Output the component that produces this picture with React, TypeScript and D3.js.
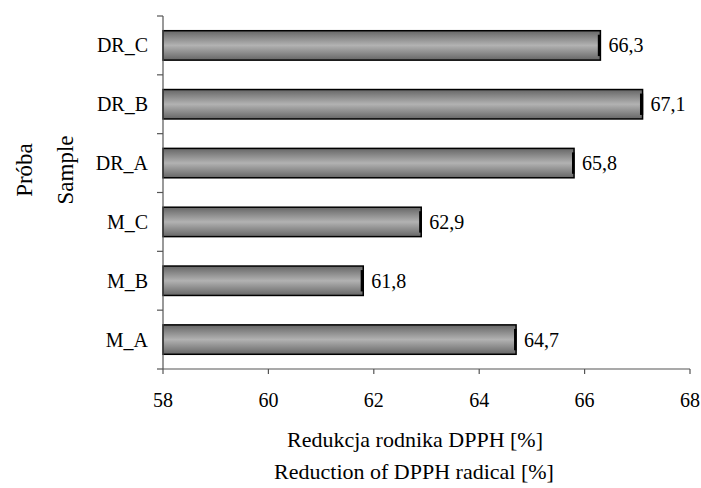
import React, { useEffect, useRef } from "react";
import * as d3 from "d3";

const samples = ["DR_C", "DR_B", "DR_A", "M_C", "M_B", "M_A"];
const values = [66.3, 67.1, 65.8, 62.9, 61.8, 64.7];
const errors = [0.03, 0.03, 0.02, 0.02, 0.03, 0.02];
const xTicks = [58, 60, 62, 64, 66, 68];

export default function App() {
  const svgRef = useRef<SVGSVGElement>(null);

  useEffect(() => {
    if (!svgRef.current) return;
    const width = 701;
    const height = 488;
    const left = 163;
    const right = 690;
    const top = 16;
    const bottom = 369;
    const font = "'Liberation Serif', 'Times New Roman', serif";

    d3.select(svgRef.current).selectAll("*").remove();
    const svg = d3.select(svgRef.current)
      .attr("width", width)
      .attr("height", height)
      .attr("viewBox", [0, 0, width, height]);

    svg.append("rect").attr("width", width).attr("height", height).attr("fill", "white");

    const defs = svg.append("defs");
    const grad = defs.append("linearGradient")
      .attr("id", "barGrad")
      .attr("x1", "0%").attr("y1", "0%")
      .attr("x2", "0%").attr("y2", "100%");
    grad.append("stop").attr("offset", "0%").attr("stop-color", "#666");
    grad.append("stop").attr("offset", "50%").attr("stop-color", "#b2b2b2");
    grad.append("stop").attr("offset", "100%").attr("stop-color", "#666");

    const x = d3.scaleLinear().domain([58, 68]).range([left, right]);
    const y = d3.scaleBand().domain(samples).range([top, bottom]).paddingInner(0.5).paddingOuter(0.25);
    const band = d3.scaleBand().domain(samples).range([top, bottom]);

    const data = samples.map((s, i) => ({ s, v: values[i], e: errors[i] }));

    // bars
    svg.append("g")
      .selectAll("rect")
      .data(data)
      .join("rect")
      .attr("x", x(58))
      .attr("y", d => y(d.s)!)
      .attr("width", d => x(d.v) - x(58))
      .attr("height", y.bandwidth())
      .attr("fill", "url(#barGrad)")
      .attr("stroke", "black")
      .attr("stroke-width", 1.5);

    // error bars
    svg.append("g")
      .selectAll("rect")
      .data(data)
      .join("rect")
      .attr("x", d => x(d.v - d.e) - 1)
      .attr("y", d => y(d.s)! + 4)
      .attr("width", d => Math.max(2.5, x(d.v + d.e) - x(d.v - d.e)))
      .attr("height", y.bandwidth() - 8)
      .attr("fill", "black");

    // value labels
    svg.append("g")
      .selectAll("text")
      .data(data)
      .join("text")
      .attr("x", d => x(d.v) + 8)
      .attr("y", d => y(d.s)! + y.bandwidth() / 2)
      .attr("dy", "0.35em")
      .attr("font-family", font)
      .attr("font-size", 20)
      .text(d => d3.format(".1f")(d.v).replace(".", ","));

    // y axis
    const yAxis = svg.append("g").attr("stroke", "#555");
    yAxis.append("line")
      .attr("x1", left).attr("x2", left)
      .attr("y1", top).attr("y2", bottom)
      .attr("stroke-width", 1.2);
    const yTickPos = samples.map(s => band(s)!).concat([bottom]);
    yAxis.selectAll("line.t")
      .data(yTickPos)
      .join("line")
      .attr("class", "t")
      .attr("x1", left - 6).attr("x2", left)
      .attr("y1", d => d).attr("y2", d => d)
      .attr("stroke-width", 1.2);

    svg.append("g")
      .selectAll("text")
      .data(samples)
      .join("text")
      .attr("x", 148)
      .attr("y", s => y(s)! + y.bandwidth() / 2)
      .attr("dy", "0.35em")
      .attr("text-anchor", "end")
      .attr("font-family", font)
      .attr("font-size", 20)
      .text(s => s);

    // x axis
    const xAxis = svg.append("g").attr("stroke", "#555");
    xAxis.append("line")
      .attr("x1", left).attr("x2", right)
      .attr("y1", bottom).attr("y2", bottom)
      .attr("stroke-width", 1.2);
    xAxis.selectAll("line.t")
      .data(xTicks)
      .join("line")
      .attr("class", "t")
      .attr("x1", d => x(d)).attr("x2", d => x(d))
      .attr("y1", bottom).attr("y2", bottom + 5)
      .attr("stroke-width", 1.2);

    svg.append("g")
      .selectAll("text")
      .data(xTicks)
      .join("text")
      .attr("x", d => x(d))
      .attr("y", 407)
      .attr("text-anchor", "middle")
      .attr("font-family", font)
      .attr("font-size", 20)
      .text(d => String(d));

    // axis titles
    svg.append("text")
      .attr("x", 415).attr("y", 447)
      .attr("text-anchor", "middle")
      .attr("font-family", font).attr("font-size", 22)
      .text("Redukcja rodnika DPPH [%]");
    svg.append("text")
      .attr("x", 414).attr("y", 479)
      .attr("text-anchor", "middle")
      .attr("font-family", font).attr("font-size", 22)
      .text("Reduction of DPPH radical [%]");

    svg.append("text")
      .attr("transform", "translate(32,170) rotate(-90)")
      .attr("text-anchor", "middle")
      .attr("font-family", font).attr("font-size", 23)
      .text("Próba");
    svg.append("text")
      .attr("transform", "translate(73,170) rotate(-90)")
      .attr("text-anchor", "middle")
      .attr("font-family", font).attr("font-size", 23)
      .text("Sample");
  }, []);

  return (
    <div style={{ position: "absolute", left: 0, top: 0 }}>
      <svg ref={svgRef}></svg>
    </div>
  );
}
